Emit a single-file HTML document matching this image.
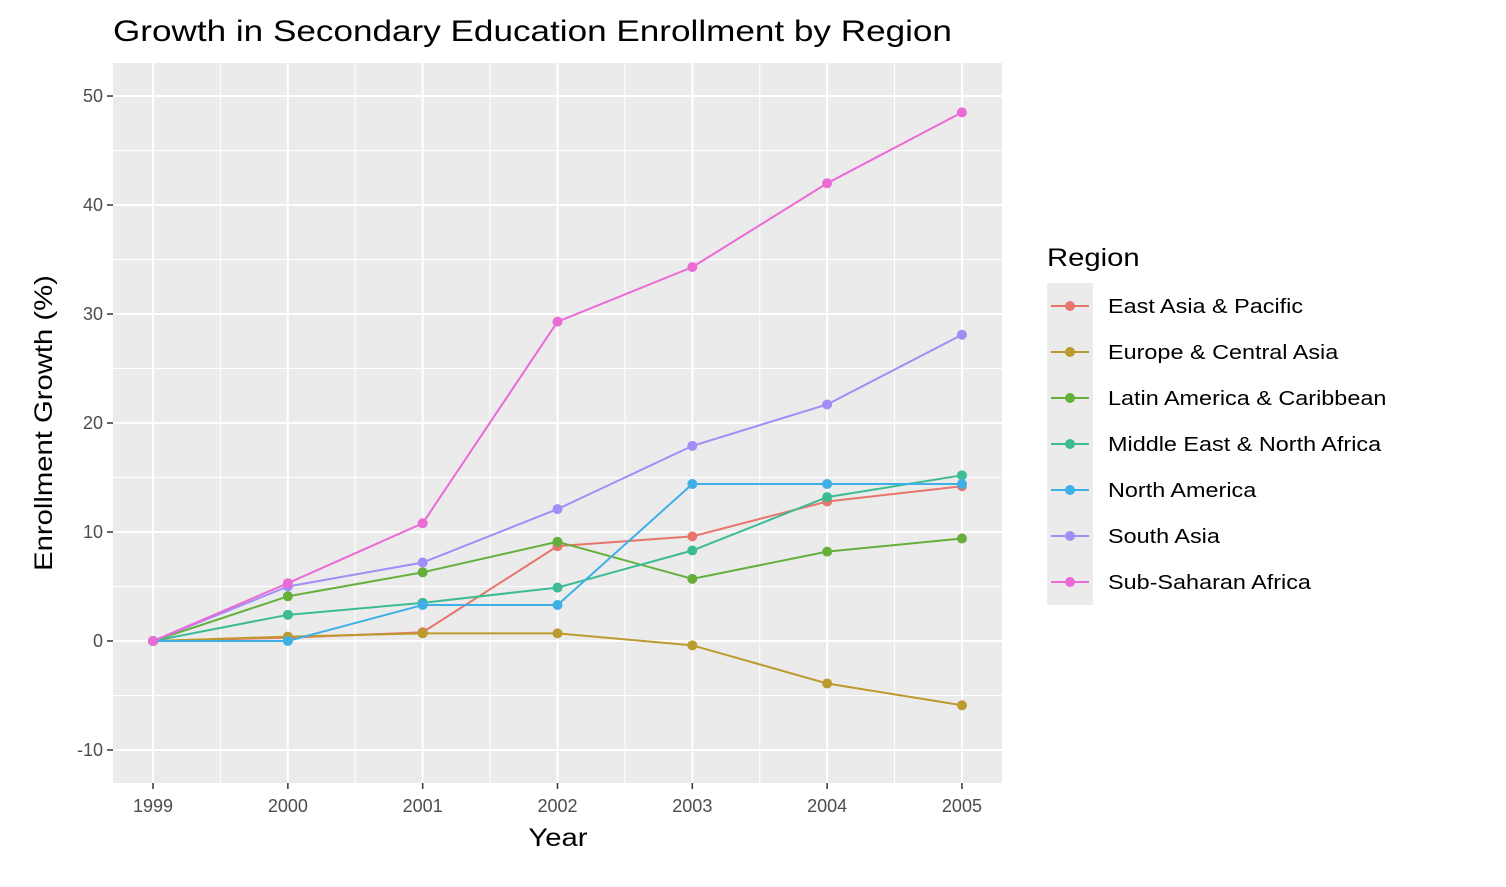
<!DOCTYPE html>
<html><head><meta charset="utf-8"><style>
body{margin:0;background:#fff;font-family:"Liberation Sans",Arial,sans-serif}
svg text{font-family:"Liberation Sans",Arial,sans-serif}
</style></head><body>
<svg id="chart" width="1506" height="882" xmlns="http://www.w3.org/2000/svg">
<text class="wide" x="113" y="41" font-size="30" fill="#000">Growth in Secondary Education Enrollment by Region</text>
<rect x="113" y="63" width="889" height="720" fill="#EBEBEB"/>
<g id="grid"></g><g id="series"></g><g id="axes"></g><g id="legend"></g>
<text class="wide" x="558" y="846" font-size="25" text-anchor="middle">Year</text>
<text class="wide" transform="translate(52,423) rotate(-90)" font-size="25" text-anchor="middle">Enrollment Growth (%)</text>
</svg>
<script>
const years=[1999,2000,2001,2002,2003,2004,2005];
const yTicks=[-10,0,10,20,30,40,50];
const regions=["East Asia & Pacific","Europe & Central Asia","Latin America & Caribbean","Middle East & North Africa","North America","South Asia","Sub-Saharan Africa"];
const colors=["#E8766D","#BD9A2E","#64B03B","#3DBB95","#3EB0E5","#A28CF5","#EC6AD5"];
const eastAsia=[0,0.3,0.8,8.7,9.6,12.8,14.2];
const europe=[0,0.4,0.7,0.7,-0.4,-3.9,-5.9];
const latinAmerica=[0,4.1,6.3,9.1,5.7,8.2,9.4];
const mena=[0,2.4,3.5,4.9,8.3,13.2,15.2];
const northAmerica=[0,0,3.3,3.3,14.4,14.4,14.4];
const southAsia=[0,5.0,7.2,12.1,17.9,21.7,28.1];
const subSaharan=[0,5.3,10.8,29.3,34.3,42.0,48.5];
const seriesData=[eastAsia,europe,latinAmerica,mena,northAmerica,southAsia,subSaharan];
const NS="http://www.w3.org/2000/svg";
const X0=113,X1=1002,Y0=63,Y1=783,xmin=1998.703,xmax=2005.297,ymin=-13.03,ymax=53.03;
const sx=v=>X0+(v-xmin)/(xmax-xmin)*(X1-X0);
const sy=v=>Y1-(v-ymin)/(ymax-ymin)*(Y1-Y0);
function mk(t,a,p){const e=document.createElementNS(NS,t);for(const k in a)e.setAttribute(k,a[k]);p.appendChild(e);return e;}
const grid=document.getElementById('grid'),axes=document.getElementById('axes'),ser=document.getElementById('series'),leg=document.getElementById('legend');
for(let i=0;i<years.length-1;i++){const x=sx(years[i]+0.5);const l=mk('line',{x1:x,x2:x,y1:Y0,y2:Y1,stroke:'#fff','stroke-width':1},grid);

}
for(let i=0;i<yTicks.length-1;i++){const y=sy(yTicks[i]+5);const l=mk('line',{x1:X0,x2:X1,y1:y,y2:y,stroke:'#fff','stroke-width':1},grid);

}
years.forEach(v=>{const x=sx(v);const l=mk('line',{x1:x,x2:x,y1:Y0,y2:Y1,stroke:'#fff','stroke-width':2},grid);


mk('line',{x1:x,x2:x,y1:Y1,y2:Y1+6,stroke:'#333','stroke-width':1.5},axes);
const t=mk('text',{x:x,y:Y1+29,'font-size':18,fill:'#4D4D4D','text-anchor':'middle'},axes);t.textContent=v;

});
yTicks.forEach(v=>{const y=sy(v);const l=mk('line',{x1:X0,x2:X1,y1:y,y2:y,stroke:'#fff','stroke-width':2},grid);


mk('line',{x1:X0-6,x2:X0,y1:y,y2:y,stroke:'#333','stroke-width':1.5},axes);
const t=mk('text',{x:X0-10,y:y+6,'font-size':18,fill:'#4D4D4D','text-anchor':'end'},axes);t.textContent=v;

});
seriesData.forEach((d,i)=>{const g=mk('g',{},ser);


const p=mk('polyline',{points:d.map((v,j)=>sx(years[j])+','+sy(v)).join(' '),fill:'none',stroke:colors[i],'stroke-width':2},g);


d.forEach((v,j)=>{const c=mk('circle',{cx:sx(years[j]),cy:sy(v),r:5,fill:colors[i]},g);

});});
const lt=mk('text',{x:1047,y:266,'font-size':25,class:'wide'},leg);lt.textContent='Region';


const lb=mk('rect',{x:1047,y:283,width:46,height:322,fill:'#EBEBEB'},leg);


regions.forEach((r,i)=>{const y=306+i*46;const g=mk('g',{},leg);


mk('line',{x1:1051,x2:1089,y1:y,y2:y,stroke:colors[i],'stroke-width':2},g);
mk('circle',{cx:1070,cy:y,r:5,fill:colors[i]},g);
const t=mk('text',{x:1108,y:y+7,'font-size':20,class:'wide'},g);t.textContent=r;});
document.querySelectorAll('text.wide').forEach(t=>{const w=t.getComputedTextLength();t.setAttribute('textLength',w*1.17);t.setAttribute('lengthAdjust','spacingAndGlyphs');});
</script>
</body></html>
